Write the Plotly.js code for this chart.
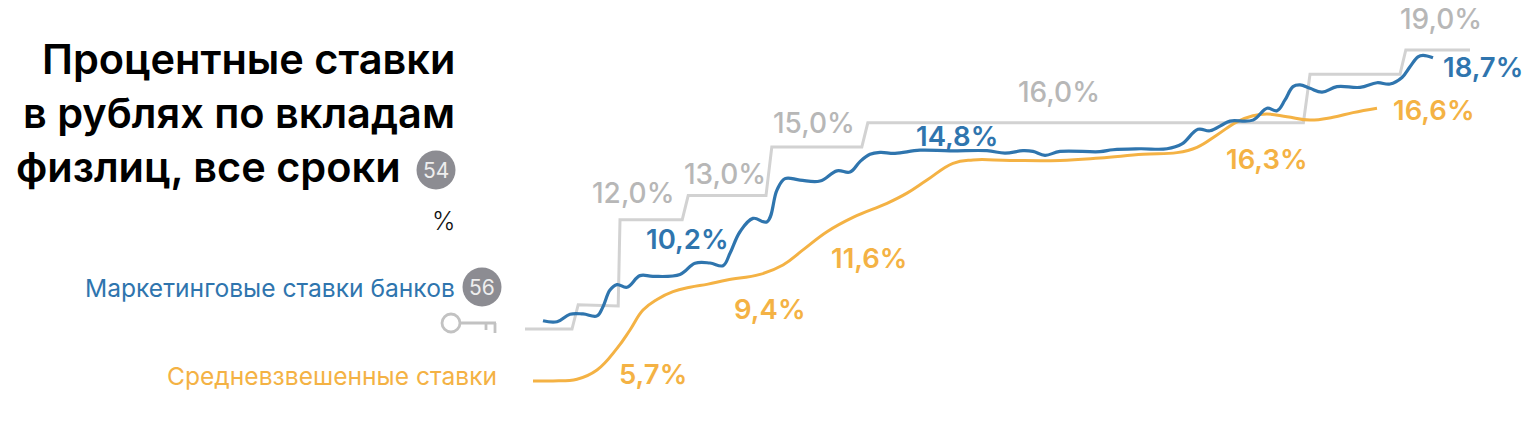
<!DOCTYPE html>
<html><head><meta charset="utf-8">
<script src="https://cdn.plot.ly/plotly-3.0.1.min.js"></script>
<style>html,body{margin:0;padding:0;background:#fff}#c{width:1536px;height:422px}</style>
</head><body><div id="c"></div>
<script>
// Days since the start of the key-rate line, and percent values
const blueDays = [9,16,22.5,29,36,39,42.5,46,51,57.5,64,77.5,85,92.5,99,102.5,107.5,114,121,126,130,137.5,147.5,156,162.5,167.5,172.5,177.5,185,197.5,212.5,231,240,249,254,260,267.5,287.5,294,307.5,321,328.5,336.5,342.5,348.5,352.5,364,371,376,380,384,387.5,392.5,398.5,406,417.5,426,432.5,438.5,442.5,446.5,449,454];
const blueValues = [7.84,7.80,8.11,8.12,8.04,8.42,9.11,9.33,9.22,9.70,9.67,9.75,10.21,10.22,10.11,10.62,11.51,12.06,11.92,13.23,13.70,13.64,13.60,14.02,13.97,14.40,14.70,14.78,14.74,14.87,14.84,14.85,14.75,14.85,14.82,14.66,14.82,14.81,14.89,14.93,14.93,15.13,15.73,15.67,15.91,16.07,16.11,16.60,16.50,16.94,17.49,17.56,17.42,17.26,17.49,17.46,17.65,17.60,17.87,18.31,18.72,18.78,18.68];
const orangeDays = [4,14,26,36,46,52.5,59,66,74,82.5,91.5,101,117.5,129,139,151,164,181,191,201,214,224,242.5,267.5,287.5,309,326,336,346,356,364,371,381,392.5,404,414,426];
const orangeValues = [5.36,5.36,5.43,5.81,6.70,7.46,8.28,8.72,9.04,9.22,9.35,9.52,9.75,10.14,10.76,11.51,12.10,12.68,13.10,13.64,14.33,14.47,14.45,14.45,14.55,14.70,14.77,14.99,15.50,16.04,16.29,16.36,16.25,16.11,16.23,16.42,16.60];
const keyDays = [0,23.5,26.6,46.6,47.5,78.6,81.6,120.5,123.4,168.4,171.4,389.2,392.5,437.5,440.4,472.5];
const keyValues = [7.5,7.5,8.5,8.45,12,12,13,13,15,15,16,16,18,18,19,19];

const titleLines = ["Процентные ставки","в рублях по вкладам","физлиц, все сроки"];
const unitLabel = "%";
const blueName = "Маркетинговые ставки банков";
const orangeName = "Средневзвешенные ставки";
const keyLabels = ["12,0%","13,0%","15,0%","16,0%","19,0%"];
const blueLabels = ["10,2%","14,8%","18,7%"];
const orangeLabels = ["5,7%","9,4%","11,6%","16,3%","16,6%"];
const badges = ["54","56"];

const W=1536,H=422, FONT='Inter, "Open Sans", sans-serif';
const px=x=>x/W, py=y=>1-y/H;
const BLUE='#2f75ae', ORANGE='#f4b244', GRAY='#d2d2d2', GRAYT='#b7b7b7', BADGE='#8c8c92';

function txt(t,x,y,size,color,weight,anchor){return {text:t,xref:'paper',yref:'paper',x:px(x),y:py(y),xanchor:anchor||'center',yanchor:'middle',showarrow:false,font:{family:FONT,size:size,color:color,weight:weight||400}};}

const annotations=[];
const keyPos=[[633,193],[725,174],[814,123],[1059,92],[1441,19]];
keyLabels.forEach((t,i)=>annotations.push(txt(t,keyPos[i][0],keyPos[i][1],28,GRAYT,500)));
const bluePos=[[687,239],[957,136],[1483,67]];
blueLabels.forEach((t,i)=>annotations.push(txt(t,bluePos[i][0],bluePos[i][1],27.5,BLUE,600)));
const orangePos=[[653,374],[770,309],[869,258],[1267,159],[1434,110]];
orangeLabels.forEach((t,i)=>annotations.push(txt(t,orangePos[i][0],orangePos[i][1],27.5,ORANGE,600)));
const titleY=[59,113,167], titleX=[457,457,403];
titleLines.forEach((t,i)=>annotations.push(txt(t,titleX[i],titleY[i],41.5,'#000',600,'right')));
annotations.push(txt(unitLabel,457,221,25,'#111',300,'right'));
annotations.push(txt(blueName,457,288,24.6,BLUE,400,'right'));
annotations.push(txt(orangeName,499,376,24.6,ORANGE,400,'right'));
const badgePos=[[436,170],[482,287]];
badges.forEach((t,i)=>annotations.push(txt(t,badgePos[i][0],badgePos[i][1],21,'#eeeeee',400)));

const shapes=badgePos.map(p=>({type:'circle',xref:'paper',yref:'paper',x0:px(p[0]-19.5),x1:px(p[0]+19.5),y0:py(p[1]+19.5),y1:py(p[1]-19.5),fillcolor:BADGE,line:{width:0},layer:'below'}));
const KEY='#c2c2c2';
shapes.push({type:'circle',xref:'paper',yref:'paper',x0:px(442),x1:px(460),y0:py(332),y1:py(314),line:{color:KEY,width:2.8}});
[[460,323,496,323],[486,323,486,330],[495,323,495,333]].forEach(s=>shapes.push({type:'line',xref:'paper',yref:'paper',x0:px(s[0]),y0:py(s[1]),x1:px(s[2]),y1:py(s[3]),line:{color:KEY,width:2.8}}));

const traces=[
 {x:keyDays,y:keyValues,mode:'lines',line:{color:GRAY,width:3},hoverinfo:'skip'},
 {x:orangeDays,y:orangeValues,mode:'lines',line:{color:ORANGE,width:3,shape:'spline',smoothing:1.2},hoverinfo:'skip'},
 {x:blueDays,y:blueValues,mode:'lines',line:{color:BLUE,width:3.2,shape:'spline',smoothing:1.1},hoverinfo:'skip'}
];
Plotly.newPlot('c',traces,{
 width:W,height:H,margin:{l:0,r:0,t:0,b:0},showlegend:false,
 paper_bgcolor:'#fff',plot_bgcolor:'#fff',
 xaxis:{range:[-262.5,505.5],visible:false,fixedrange:true},
 yaxis:{range:[3.667,21.061],visible:false,fixedrange:true},
 annotations:annotations,shapes:shapes
},{displayModeBar:false,staticPlot:true});
</script></body></html>
